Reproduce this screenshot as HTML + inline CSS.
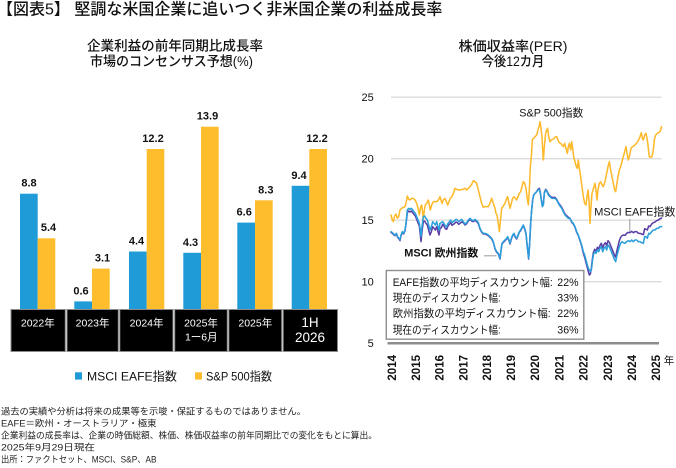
<!DOCTYPE html>
<html>
<head>
<meta charset="utf-8">
<style>
html,body{margin:0;padding:0;background:#fff;}
body{width:676px;height:468px;overflow:hidden;}
svg{display:block;}
text{font-family:"Liberation Sans","Noto Sans CJK JP",sans-serif;}
</style>
</head>
<body>
<svg width="676" height="468" viewBox="0 0 676 468" xmlns="http://www.w3.org/2000/svg">
<rect width="676" height="468" fill="#fff"/>

<!-- Title -->
<text x="-3" y="14.5" font-size="16" font-weight="500" fill="#111">【図表5】 堅調な米国企業に追いつく非米国企業の利益成長率</text>

<!-- Left subtitles -->
<text x="175" y="50.5" font-size="13.5" font-weight="500" text-anchor="middle" textLength="176" lengthAdjust="spacingAndGlyphs" fill="#111">企業利益の前年同期比成長率</text>
<text x="171.5" y="66" font-size="13.5" font-weight="500" text-anchor="middle" textLength="163" lengthAdjust="spacingAndGlyphs" fill="#111">市場のコンセンサス予想(%)</text>

<!-- Right subtitles -->
<text x="513" y="51" font-size="13.5" font-weight="500" text-anchor="middle" textLength="109" lengthAdjust="spacingAndGlyphs" fill="#111">株価収益率(PER)</text>
<text x="513" y="66" font-size="13.5" font-weight="500" text-anchor="middle" textLength="62.5" lengthAdjust="spacingAndGlyphs" fill="#111">今後12カ月</text>

<!-- Bars -->
<g>
<rect x="20" y="193.7" width="17.7" height="115.6" fill="#1F9BD7"/>
<rect x="37.7" y="238.3" width="17.6" height="71" fill="#FDBD2C"/>
<rect x="74.3" y="301.4" width="17.7" height="7.9" fill="#1F9BD7"/>
<rect x="92" y="268.6" width="17.7" height="40.7" fill="#FDBD2C"/>
<rect x="129" y="251.5" width="17.7" height="57.8" fill="#1F9BD7"/>
<rect x="146.7" y="149" width="17.6" height="160.3" fill="#FDBD2C"/>
<rect x="183.3" y="252.8" width="17.7" height="56.5" fill="#1F9BD7"/>
<rect x="201" y="126.7" width="17.7" height="182.6" fill="#FDBD2C"/>
<rect x="237.3" y="222.6" width="17.7" height="86.7" fill="#1F9BD7"/>
<rect x="255" y="200.3" width="17.7" height="109" fill="#FDBD2C"/>
<rect x="291.7" y="185.8" width="17.6" height="123.5" fill="#1F9BD7"/>
<rect x="309.3" y="149" width="17.7" height="160.3" fill="#FDBD2C"/>
</g>

<!-- Value labels -->
<g font-size="11" font-weight="bold" fill="#111" text-anchor="middle">
<text x="29" y="186.5">8.8</text>
<text x="48.5" y="231">5.4</text>
<text x="81" y="294.5">0.6</text>
<text x="102.5" y="261.5">3.1</text>
<text x="136.5" y="244.5">4.4</text>
<text x="153" y="142">12.2</text>
<text x="190.5" y="245.8">4.3</text>
<text x="207.5" y="119.7">13.9</text>
<text x="244.2" y="215.6">6.6</text>
<text x="265.8" y="193.3">8.3</text>
<text x="299" y="178.8">9.4</text>
<text x="317" y="142">12.2</text>
</g>

<!-- Category table -->
<g fill="#000" stroke="#8a8a8a" stroke-width="1">
<rect x="11" y="309.5" width="54.3" height="42"/>
<rect x="67" y="309.5" width="51.3" height="42"/>
<rect x="119.8" y="309.5" width="53.2" height="42"/>
<rect x="174.7" y="309.5" width="52.6" height="42"/>
<rect x="228.8" y="309.5" width="52.9" height="42"/>
<rect x="283.2" y="309.5" width="54.3" height="42"/>
</g>
<g fill="#fff" font-size="10.5" text-anchor="middle">
<text x="37.8" y="326.5">2022年</text>
<text x="92.6" y="326.5">2023年</text>
<text x="146.6" y="326.5">2024年</text>
<text x="201" y="326.5">2025年</text>
<text x="201.3" y="340.5">1ー6月</text>
<text x="255.3" y="326.5">2025年</text>
<text x="310" y="326.8" font-size="13.5">1H</text>
<text x="310" y="342" font-size="13.5">2026</text>
</g>

<!-- Left legend -->
<rect x="75" y="372.3" width="7" height="7.3" fill="#1F9BD7"/>
<text x="87" y="380.3" font-size="12" fill="#111" textLength="90" lengthAdjust="spacingAndGlyphs">MSCI EAFE指数</text>
<rect x="195" y="372.3" width="7" height="7.3" fill="#FDBD2C"/>
<text x="206" y="380.3" font-size="12" fill="#111" textLength="66" lengthAdjust="spacingAndGlyphs">S&amp;P 500指数</text>

<!-- Right chart gridlines -->
<g stroke="#dcdcdc" stroke-width="1.4">
<line x1="391" y1="97.2" x2="661.7" y2="97.2"/>
<line x1="391" y1="158.7" x2="661.7" y2="158.7"/>
<line x1="391" y1="220.2" x2="661.7" y2="220.2"/>
<line x1="391" y1="281.7" x2="661.7" y2="281.7"/>
</g>
<line x1="387.5" y1="343.3" x2="659" y2="343.3" stroke="#8c8c8c" stroke-width="2.5"/>

<!-- Y tick labels -->
<g font-size="11" fill="#111" text-anchor="end">
<text x="373.8" y="101">25</text>
<text x="373.8" y="162.5">20</text>
<text x="373.8" y="224">15</text>
<text x="373.8" y="285.5">10</text>
<text x="373.8" y="347">5</text>
</g>

<!-- Series -->
<g transform="translate(370 90) scale(0.333333)" fill="none" stroke-width="4.6" stroke-linejoin="round" stroke-linecap="round">
<polyline stroke="#FDB92B" points="63,375 67,390 70,395 74,378 78,372 82,385 86,380 90,360 95,355 100,352 105,350 110,330 112,318 116,328 120,330 125,325 130,325 135,330 140,340 144,355 148,375 152,350 155,345 158,370 160,390 163,360 166,345 170,340 175,330 178,345 181,360 185,345 190,335 195,335 200,335 205,330 210,320 213,330 216,340 220,330 225,325 229,335 233,345 237,335 241,325 246,320 250,310 255,295 260,298 265,300 270,300 275,298 280,298 285,295 290,300 295,295 300,290 305,283 310,272 315,275 320,280 325,300 330,320 335,340 340,352 345,350 350,350 355,350 360,340 365,325 370,340 375,355 378,370 381,375 385,400 388,425 391,395 395,355 400,348 405,340 410,325 413,320 417,340 420,355 424,340 428,325 432,320 436,325 440,330 444,320 448,310 452,305 456,290 460,275 464,280 468,295 471,320 475,345 478,300 481,230 484,200 487,150 490,145 495,140 500,135 504,120 507,110 510,95 513,115 516,140 518,180 520,210 523,170 527,130 530,120 533,115 536,140 540,155 544,150 548,148 552,145 556,140 560,140 564,150 568,158 572,160 576,165 580,170 584,160 588,175 592,190 595,170 598,160 602,180 605,155 608,175 611,200 615,215 619,230 622,235 625,210 628,235 632,260 636,290 640,320 644,340 648,345 651,320 654,300 657,330 660,400 663,350 666,310 669,300 672,290 675,280 678,300 681,330 684,300 688,280 692,275 696,285 700,290 705,275 710,250 714,230 718,215 722,240 726,260 730,280 734,300 737,305 740,285 744,260 748,240 752,230 756,215 760,200 764,185 768,170 772,195 775,210 779,195 783,175 787,170 791,168 795,165 799,160 803,155 806,150 810,140 814,128 817,145 820,150 824,135 828,130 832,150 835,175 838,200 842,202 846,200 850,180 853,150 857,135 862,130 866,128 870,125 873,115 875,110"/>
<polyline stroke="#5A3EA6" points="63,427 67,430 71,434 75,437 79,432 83,442 87,447 90,452 93,437 97,427 101,432 105,422 108,402 112,368 116,363 120,366 124,363 128,368 132,373 136,378 140,388 144,398 148,408 151,435 153,455 156,425 160,395 164,393 168,400 172,405 176,420 180,435 184,425 188,410 192,415 196,420 200,410 204,425 207,435 210,415 214,413 218,403 222,408 226,416 230,418 234,408 238,403 242,398 246,406 250,403 254,400 258,396 262,398 266,403 270,400 275,396 280,398 285,405 290,401 295,393 300,388 305,393 310,395 315,391 320,395 325,401 330,417 335,427 340,432 345,432 350,434 355,437 360,442 365,447 370,457 375,477 380,487 385,492 388,502 390,507 393,482 396,462 400,457 405,452 410,447 413,442 417,452 420,462 424,447 428,437 432,432 436,442 440,447 444,437 448,427 452,422 456,414 460,407 464,417 468,432 472,472 476,507 479,460 482,400 485,360 488,330 491,315 495,310 500,305 504,298 508,295 511,308 514,328 517,348 520,343 523,308 527,298 531,303 535,312 540,318 545,322 550,322 555,322 560,328 565,338 570,345 575,352 580,362 585,372 590,377 595,382 600,385 605,397 610,402 615,412 620,427 625,437 630,452 635,468 640,490 644,502 648,518 652,533 655,545 658,555 661,552 664,535 667,508 670,488 674,478 678,483 682,472 686,477 690,466 694,460 698,474 702,463 706,458 710,467 714,452 718,457 722,467 726,477 730,487 734,497 737,502 740,485 744,468 748,452 752,442 756,437 760,435 765,436 770,430 775,427 780,428 785,424 790,428 795,425 800,425 805,430 810,430 815,432 820,434 824,416 828,418 832,420 836,408 840,410 845,402 850,398 855,396 860,392 865,390 870,386 875,384"/>
<polyline stroke="#2A9FDB" points="63,425 67,428 71,432 75,435 79,430 83,440 87,445 90,450 93,435 97,425 101,430 105,420 108,400 112,360 116,355 120,358 124,355 128,360 132,365 136,370 140,380 144,390 148,400 151,420 153,440 156,410 160,380 164,378 168,385 172,390 176,405 180,420 184,410 188,395 192,400 196,405 200,395 204,410 207,420 210,400 214,398 218,395 222,400 226,408 230,410 234,400 238,395 242,390 246,398 250,395 254,392 258,388 262,390 266,395 270,392 275,388 280,395 285,402 290,398 295,390 300,385 305,390 310,392 315,388 320,392 325,398 330,415 335,425 340,430 345,430 350,432 355,435 360,440 365,445 370,455 375,475 380,485 385,490 388,500 390,505 393,480 396,460 400,455 405,450 410,445 413,440 417,450 420,460 424,445 428,435 432,430 436,440 440,445 444,435 448,425 452,420 456,412 460,405 464,415 468,430 472,470 476,505 479,460 482,400 485,360 488,330 491,315 495,310 500,305 504,300 508,298 511,310 514,330 517,350 520,345 523,310 527,300 531,305 535,315 540,320 545,325 550,325 555,325 560,330 565,340 570,348 575,355 580,365 585,375 590,380 595,385 600,385 605,395 610,400 615,410 620,425 625,435 630,450 635,465 640,485 644,495 648,510 652,525 655,535 658,540 661,545 664,540 667,515 670,495 674,485 678,490 682,480 686,485 690,475 694,470 698,485 702,475 706,470 710,480 714,465 718,470 722,480 726,490 730,500 734,510 737,515 740,500 744,485 748,470 752,460 756,455 760,458 765,460 770,455 775,452 780,455 785,450 790,455 795,450 800,450 805,455 810,455 815,458 820,460 824,440 828,440 832,445 836,430 840,432 845,425 850,420 855,420 860,415 865,415 870,410 875,410"/>
</g>

<!-- Series labels -->
<text x="519.3" y="116.7" font-size="11" fill="#111" textLength="64" lengthAdjust="spacingAndGlyphs">S&amp;P 500指数</text>
<text x="594.3" y="215.7" font-size="11" fill="#111" textLength="81" lengthAdjust="spacingAndGlyphs">MSCI EAFE指数</text>
<line x1="629.8" y1="219" x2="629.8" y2="231.5" stroke="#999" stroke-width="1"/>
<text x="404.3" y="256.7" font-size="11" font-weight="bold" fill="#111" textLength="74" lengthAdjust="spacingAndGlyphs">MSCI 欧州指数</text>
<line x1="484" y1="255.8" x2="496.5" y2="255.8" stroke="#999" stroke-width="1"/>

<!-- Discount box -->
<rect x="386.3" y="270.5" width="197.5" height="68.7" fill="#fff" stroke="#8f8f8f" stroke-width="1.4"/>
<g font-size="10.6" fill="#111">
<text x="392.7" y="286" textLength="160" lengthAdjust="spacingAndGlyphs">EAFE指数の平均ディスカウント幅:</text>
<text x="578.5" y="286" text-anchor="end">22%</text>
<text x="392.7" y="301.3" textLength="108" lengthAdjust="spacingAndGlyphs">現在のディスカウント幅:</text>
<text x="578.5" y="301.3" text-anchor="end">33%</text>
<text x="392.7" y="317.2" textLength="158" lengthAdjust="spacingAndGlyphs">欧州指数の平均ディスカウント幅:</text>
<text x="578.5" y="317.2" text-anchor="end">22%</text>
<text x="392.7" y="333.4" textLength="108" lengthAdjust="spacingAndGlyphs">現在のディスカウント幅:</text>
<text x="578.5" y="333.4" text-anchor="end">36%</text>
</g>

<!-- X tick labels (rotated) -->
<g font-size="11.5" font-weight="bold" fill="#111" text-anchor="end">
<text transform="translate(395.8 355) rotate(-90)">2014</text>
<text transform="translate(419.8 355) rotate(-90)">2015</text>
<text transform="translate(443.6 355) rotate(-90)">2016</text>
<text transform="translate(467.5 355) rotate(-90)">2017</text>
<text transform="translate(491 355) rotate(-90)">2018</text>
<text transform="translate(515.2 355) rotate(-90)">2019</text>
<text transform="translate(539.2 355) rotate(-90)">2020</text>
<text transform="translate(563.5 355) rotate(-90)">2021</text>
<text transform="translate(587.5 355) rotate(-90)">2022</text>
<text transform="translate(611.8 355) rotate(-90)">2023</text>
<text transform="translate(635.8 355) rotate(-90)">2024</text>
<text transform="translate(660.2 355) rotate(-90)">2025</text>
</g>
<text x="669" y="364" font-size="10.5" fill="#111" text-anchor="middle">年</text>

<!-- Footnotes -->
<g font-size="9" fill="#222">
<text x="1" y="414.3" textLength="305" lengthAdjust="spacingAndGlyphs">過去の実績や分析は将来の成果等を示唆・保証するものではありません。</text>
<text x="1" y="426.3" textLength="155.5" lengthAdjust="spacingAndGlyphs">EAFE＝欧州・オーストラリア・極東</text>
<text x="1" y="438.3" textLength="376" lengthAdjust="spacingAndGlyphs">企業利益の成長率は、企業の時価総額、株価、株価収益率の前年同期比での変化をもとに算出。</text>
<text x="1" y="450.3" textLength="94" lengthAdjust="spacingAndGlyphs">2025年9月29日現在</text>
<text x="1" y="462.3" textLength="155.5" lengthAdjust="spacingAndGlyphs">出所：ファクトセット、MSCI、S&amp;P、AB</text>
</g>
</svg>
</body>
</html>
